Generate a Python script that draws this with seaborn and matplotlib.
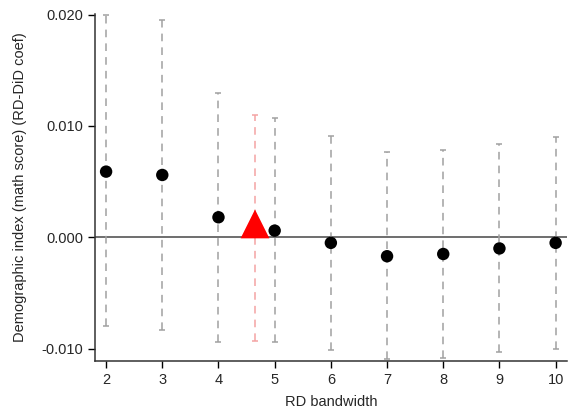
import numpy as np
import pandas as pd
import matplotlib
matplotlib.use("Agg")
import matplotlib.pyplot as plt
import seaborn as sns

# RD bandwidth estimates
bandwidth = [2, 3, 4, 5, 6, 7, 8, 9, 10]
coef = [0.0059, 0.0056, 0.0018, 0.0006, -0.0005, -0.0017, -0.0015, -0.0010, -0.0005]
ci_low = [-0.0080, -0.0083, -0.0094, -0.0094, -0.0101, -0.0109, -0.0108, -0.0103, -0.0100]
ci_high = [0.0200, 0.0195, 0.0130, 0.0107, 0.0091, 0.0077, 0.0078, 0.0084, 0.0090]

# optimal bandwidth estimate
opt_bw = [4.65]
opt_coef = [0.0012]
opt_low = [-0.0093]
opt_high = [0.0110]

yticks = [-0.010, 0.000, 0.010, 0.020]
ytick_labels = ["-0.010", "0.000", "0.010", "0.020"]

sns.set_style("ticks")
plt.rcParams['font.family'] = ['Liberation Sans', 'DejaVu Sans']

df = pd.DataFrame({'bw': bandwidth, 'coef': coef, 'lo': ci_low, 'hi': ci_high})
opt = pd.DataFrame({'bw': opt_bw, 'coef': opt_coef, 'lo': opt_low, 'hi': opt_high})

fig = plt.figure(figsize=(5.68, 4.11), dpi=100)
ax = fig.add_axes([0.167, 0.122, 0.831, 0.845])

ax.axhline(0, color='#555555', linewidth=1.2, zorder=1)

# confidence intervals
eb = ax.errorbar(df['bw'], df['coef'], yerr=[df['coef'] - df['lo'], df['hi'] - df['coef']],
                 fmt='none', ecolor='#a0a0a0', elinewidth=1.1, capsize=2.2, capthick=1.1, zorder=2)
eb[2][0].set_linestyle((0, (5, 4)))
eb2 = ax.errorbar(opt['bw'], opt['coef'], yerr=[opt['coef'] - opt['lo'], opt['hi'] - opt['coef']],
                  fmt='none', ecolor='#f4a3a3', elinewidth=1.1, capsize=2.2, capthick=1.1, zorder=2)
eb2[2][0].set_linestyle((0, (5, 4)))

sns.scatterplot(data=df, x='bw', y='coef', ax=ax, color='black', s=80, edgecolor='none', zorder=3)
sns.scatterplot(data=opt, x='bw', y='coef', ax=ax, color='red', marker='^', s=430,
                edgecolor='none', zorder=3)

ax.set_xlim(1.8, 10.2)
ax.set_ylim(-0.0111, 0.0201)
ax.set_xticks(bandwidth)
ax.set_yticks(yticks)
ax.set_yticklabels(ytick_labels)
ax.tick_params(axis='both', labelsize=10.5, length=5, width=1, color='black', direction='out')
ax.set_xlabel('RD bandwidth', fontsize=10.5, labelpad=6)
ax.set_ylabel('Demographic index (math score) (RD-DiD coef)', fontsize=10.5, labelpad=10)

sns.despine(ax=ax, top=True, right=True)
for s in ['left', 'bottom']:
    ax.spines[s].set_color('#333333')
    ax.spines[s].set_linewidth(1.1)

plt.savefig('out.png', dpi=100)
plt.close()
